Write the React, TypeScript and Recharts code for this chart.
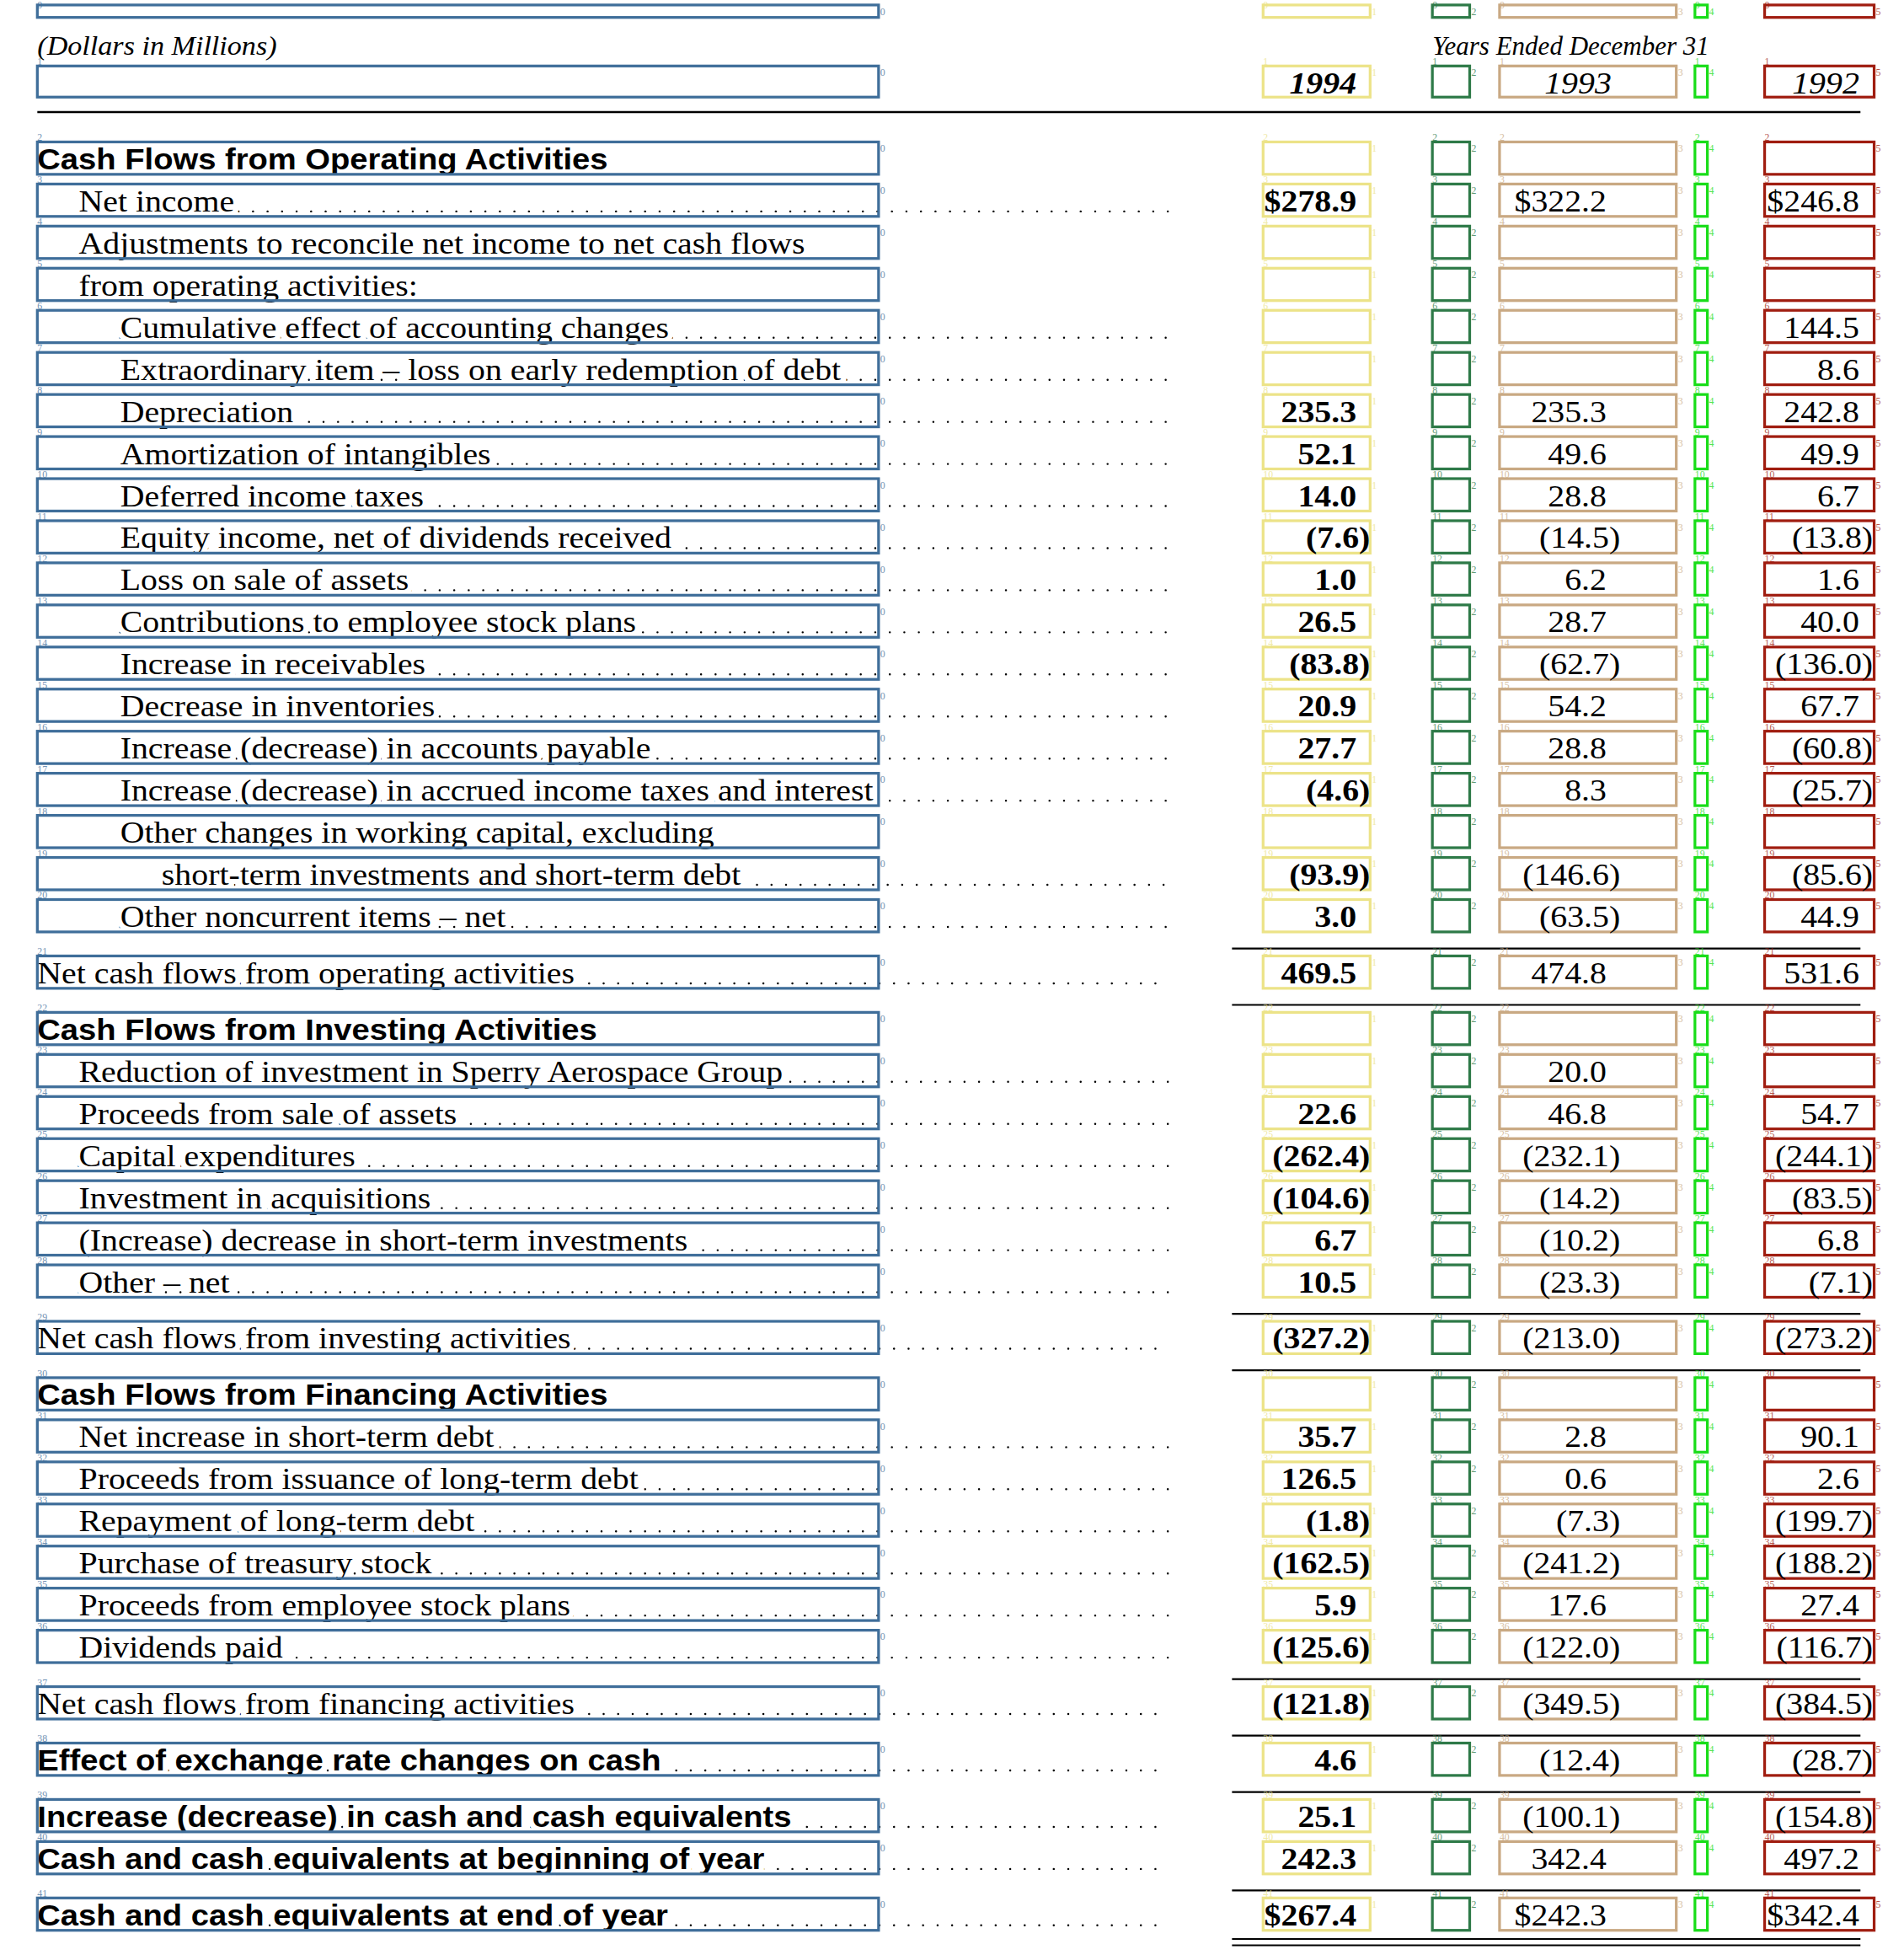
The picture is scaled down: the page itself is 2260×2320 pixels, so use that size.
import React from 'react';
import { ScatterChart, Scatter, XAxis, YAxis, ReferenceLine } from 'recharts';

// reference is laid out in a 1530 x 1570 grid, drawn at 2260 x 2320
const S = 2260 / 1530;
const SERIF = '"Liberation Serif", "Times New Roman", serif';
const SANS = '"Liberation Sans", Arial, sans-serif';
const STRETCH = 1.1;

const labels = [
  '', '',
  'Cash Flows from Operating Activities',
  'Net income',
  'Adjustments to reconcile net income to net cash flows',
  'from operating activities:',
  'Cumulative effect of accounting changes',
  'Extraordinary item – loss on early redemption of debt',
  'Depreciation',
  'Amortization of intangibles',
  'Deferred income taxes',
  'Equity income, net of dividends received',
  'Loss on sale of assets',
  'Contributions to employee stock plans',
  'Increase in receivables',
  'Decrease in inventories',
  'Increase (decrease) in accounts payable',
  'Increase (decrease) in accrued income taxes and interest',
  'Other changes in working capital, excluding',
  'short-term investments and short-term debt',
  'Other noncurrent items – net',
  'Net cash flows from operating activities',
  'Cash Flows from Investing Activities',
  'Reduction of investment in Sperry Aerospace Group',
  'Proceeds from sale of assets',
  'Capital expenditures',
  'Investment in acquisitions',
  '(Increase) decrease in short-term investments',
  'Other – net',
  'Net cash flows from investing activities',
  'Cash Flows from Financing Activities',
  'Net increase in short-term debt',
  'Proceeds from issuance of long-term debt',
  'Repayment of long-term debt',
  'Purchase of treasury stock',
  'Proceeds from employee stock plans',
  'Dividends paid',
  'Net cash flows from financing activities',
  'Effect of exchange rate changes on cash',
  'Increase (decrease) in cash and cash equivalents',
  'Cash and cash equivalents at beginning of year',
  'Cash and cash equivalents at end of year',
];

const indents = [0, 0, 0, 1, 1, 1, 2, 2, 2, 2, 2, 2, 2, 2, 2, 2, 2, 2, 2, 3, 2, 0, 0, 1, 1, 1, 1, 1, 1, 0, 0, 1, 1, 1, 1, 1, 1, 0, 0, 0, 0, 0];
const sansRows = [2, 22, 30, 38, 39, 40, 41];
const noDotRows = [0, 1, 2, 4, 5, 18, 22, 30];
const ruleRows = [21, 22, 29, 30, 37, 38, 39, 41];
const dollarRows = [3, 41];

const years = ['1994', '1993', '1992'];

const v1994 = [null, null, null, 278.9, null, null, null, null, 235.3, 52.1, 14.0, -7.6, 1.0, 26.5, -83.8, 20.9, 27.7, -4.6, null, -93.9, 3.0, 469.5,
  null, null, 22.6, -262.4, -104.6, 6.7, 10.5, -327.2, null, 35.7, 126.5, -1.8, -162.5, 5.9, -125.6, -121.8, 4.6, 25.1, 242.3, 267.4];
const v1993 = [null, null, null, 322.2, null, null, null, null, 235.3, 49.6, 28.8, -14.5, 6.2, 28.7, -62.7, 54.2, 28.8, 8.3, null, -146.6, -63.5, 474.8,
  null, 20.0, 46.8, -232.1, -14.2, -10.2, -23.3, -213.0, null, 2.8, 0.6, -7.3, -241.2, 17.6, -122.0, -349.5, -12.4, -100.1, 342.4, 242.3];
const v1992 = [null, null, null, 246.8, null, null, 144.5, 8.6, 242.8, 49.9, 6.7, -13.8, 1.6, 40.0, -136.0, 67.7, -60.8, -25.7, null, -85.6, 44.9, 531.6,
  null, null, 54.7, -244.1, -83.5, 6.8, -7.1, -273.2, null, 90.1, 2.6, -199.7, -188.2, 27.4, -116.7, -384.5, -28.7, -154.8, 497.2, 342.4];

const cols = [
  { x0: 30, x1: 706, color: '#3f6e9a', tag: 0 },
  { x0: 1015, x1: 1101, color: '#ece388', tag: 1, vals: v1994, right: 1090, bold: true },
  { x0: 1151, x1: 1181, color: '#2e7a48', tag: 2 },
  { x0: 1205, x1: 1347, color: '#c9a983', tag: 3, vals: v1993, right: 1291, bold: false },
  { x0: 1362, x1: 1372, color: '#19dd19', tag: 4 },
  { x0: 1418, x1: 1506, color: '#a01d10', tag: 5, vals: v1992, right: 1494, bold: false },
];

const rowTop = (i: number) => {
  if (i === 0) return 4;
  if (i === 1) return 53;
  const r = ruleRows.filter((k) => k <= i).length;
  return 114 + (i - 2) * 33.8 + r * 11.5;
};
const rowH = (i: number) => (i === 0 ? 10 : i === 1 ? 25 : 26);

const fmt = (v: number | null, i: number) => {
  if (v == null) return '';
  const s = Math.abs(v).toFixed(1);
  if (v < 0) return `(${s})`;
  return dollarRows.includes(i) ? `$${s}` : s;
};

const stretch = (x: number) => `translate(${x},0) scale(${STRETCH},1) translate(${-x},0)`;

const Tags = ({ x, y, w, color, i, tag }: any) => (
  <g fontFamily={SERIF} fontSize={8 * S} fill={color} opacity={0.75}>
    <text x={x} y={Math.max(y - 1, 10)}>{i}</text>
    <text x={x + w + 2} y={y + 8 * S}>{tag}</text>
  </g>
);

const LabelShape = (p: any) => {
  const { cx, cy, payload } = p;
  const i = payload.i;
  const c = cols[0];
  const w = (c.x1 - c.x0) * S;
  const h = rowH(i) * S;
  const tx = (30 + indents[i] * 33.3) * S;
  const base = cy + 22 * S;
  const sans = sansRows.includes(i);
  return (
    <g>
      {i === 1 && (
        <g fontFamily={SERIF} fontStyle="italic" fontSize={21 * S}>
          <text x={30 * S} y={cy - 9 * S} transform={stretch(30 * S)}>(Dollars in Millions)</text>
          <text x={1151 * S} y={cy - 9 * S}>Years Ended December 31</text>
        </g>
      )}
      {!noDotRows.includes(i) && (
        <line x1={tx} x2={940 * S} y1={base} y2={base} stroke="#000" strokeWidth={2.4}
          strokeLinecap="round" strokeDasharray={`0.1 ${11.6 * S}`} />
      )}
      {labels[i] && (
        <text x={tx} y={base} fontFamily={sans ? SANS : SERIF} fontWeight={sans ? 700 : 400}
          fontSize={(sans ? 23.5 : 24.5) * S} stroke="#fff" strokeWidth={12} paintOrder="stroke" fill="#000"
          transform={stretch(tx)}>
          {labels[i]}
        </text>
      )}
      <rect x={cx} y={cy} width={w} height={h} fill="none" stroke={c.color} strokeWidth={2.2 * S} />
      <Tags x={cx} y={cy} w={w} color={c.color} i={i} tag={c.tag} />
    </g>
  );
};

const makeColShape = (ci: number) => (p: any) => {
  const { cx, cy, payload } = p;
  const i = payload.i;
  const c: any = cols[ci];
  const w = (c.x1 - c.x0) * S;
  const h = rowH(i) * S;
  let txt = '';
  let anchor: 'end' | 'middle' = 'end';
  let x = 0;
  let italic = false;
  if (c.vals) {
    if (i === 1) {
      txt = years[[1, 3, 5].indexOf(ci)];
      italic = true;
      if (ci === 3) { anchor = 'middle'; x = 1268 * S; } else x = c.right * S;
    } else {
      const v = c.vals[i];
      txt = fmt(v, i);
      x = (v != null && v < 0 ? c.right + 11 : c.right) * S;
    }
  }
  return (
    <g>
      <rect x={cx} y={cy} width={w} height={h} fill="none" stroke={c.color} strokeWidth={2.2 * S} />
      <Tags x={cx} y={cy} w={w} color={c.color} i={i} tag={c.tag} />
      {txt && (
        <text x={x} y={cy + 22 * S} textAnchor={anchor} fontFamily={SERIF} transform={stretch(x)}
          fontWeight={c.bold ? 700 : 400} fontStyle={italic ? 'italic' : 'normal'} fontSize={24.5 * S} fill="#000">
          {txt}
        </text>
      )}
    </g>
  );
};

const rows = labels.map((_, i) => i);

export default function App() {
  const ruleYs = ruleRows.map((i) => rowTop(i) - 6);
  const endY = rowTop(41) + 33;
  return (
    <div style={{ position: 'absolute', left: 0, top: 0, background: '#fff' }}>
      <ScatterChart width={2260} height={2320} margin={{ top: 0, right: 0, bottom: 0, left: 0 }}>
        <XAxis type="number" dataKey="x" domain={[0, 1530]} hide />
        <YAxis type="number" dataKey="y" domain={[0, 1570]} reversed hide />
        <ReferenceLine segment={[{ x: 30, y: 90 }, { x: 1495, y: 90 }]} stroke="#000" strokeWidth={2.5} />
        {ruleYs.map((y, k) => (
          <ReferenceLine key={k} segment={[{ x: 990, y }, { x: 1495, y }]} stroke="#000" strokeWidth={2.2} />
        ))}
        <ReferenceLine segment={[{ x: 990, y: endY }, { x: 1495, y: endY }]} stroke="#000" strokeWidth={2} />
        <ReferenceLine segment={[{ x: 990, y: endY + 5 }, { x: 1495, y: endY + 5 }]} stroke="#000" strokeWidth={2} />
        {cols.map((c, ci) => (
          <Scatter
            key={ci}
            isAnimationActive={false}
            data={rows.map((i) => ({ i, x: c.x0, y: rowTop(i) }))}
            shape={ci === 0 ? LabelShape : makeColShape(ci)}
          />
        ))}
      </ScatterChart>
    </div>
  );
}
